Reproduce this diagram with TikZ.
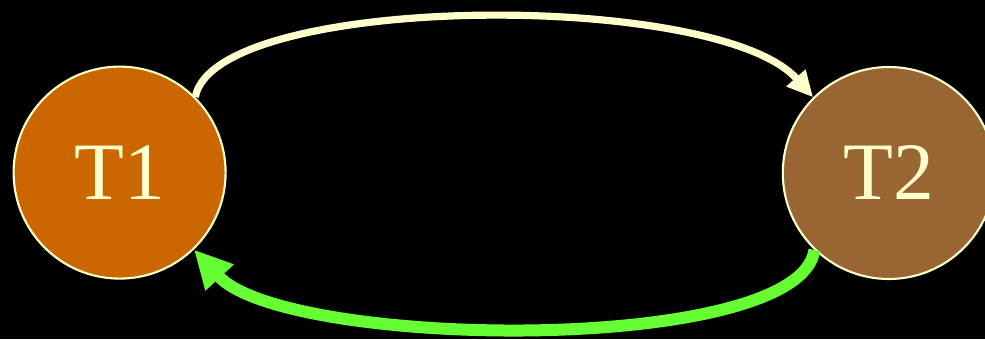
\documentclass[tikz,border=0pt]{standalone}
\usepackage{fontspec}
\setmainfont{Liberation Serif}
\usepackage{xcolor}
\usepackage{tikz}
\usetikzlibrary{positioning, arrows.meta}
\definecolor{tkBg}{HTML}{000000}
\definecolor{tkCream}{HTML}{FFFFCC}
\definecolor{tkOrange}{HTML}{CC6600}
\definecolor{tkBrown}{HTML}{996633}
\definecolor{tkGreen}{HTML}{66FF33}
\tikzset{
  txnode/.style={
    circle,
    draw=tkCream, line width=1.5pt,
    fill=#1,
    minimum size=5.3cm,
    inner sep=0pt,
    text=tkCream,
    font=\fontsize{58}{60}\selectfont
  },
  fwdarrow/.style={
    -{Triangle[length=6.5mm, width=6mm]},
    tkCream, line width=0.18cm
  },
  backarrow/.style={
    -{Triangle[length=9.5mm, width=9mm]},
    tkGreen, line width=0.3cm
  }
}
\begin{document}
\begin{tikzpicture}
      % Background
      \fill[tkBg] (0,0) rectangle (24.625,8.475);
      \useasboundingbox (0,0) rectangle (24.625,8.475);
      % Transactions
      \node[txnode=tkOrange] (t1) at (2.99, 4.16) {T1};
      \node[txnode=tkBrown] (t2) at (22.22, 4.15) {T2};
      % T1 waits for T2, T2 waits for T1
      \draw[fwdarrow] (t1.45) .. controls +(0.5, 2.6) and +(-2.4, 2.7) .. (t2.135);
      \draw[backarrow] (t2.226) .. controls +(-0.375, -2.65) and +(2.3, -2.5) .. (t1.-46);
\end{tikzpicture}
\end{document}
